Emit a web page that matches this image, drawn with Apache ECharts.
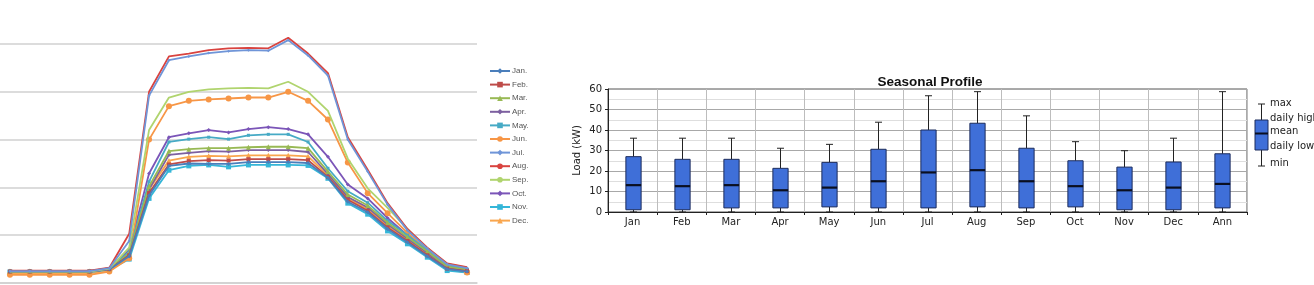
<!DOCTYPE html>
<html>
<head>
<meta charset="utf-8">
<script src="https://cdn.jsdelivr.net/npm/echarts@6/dist/echarts.min.js"></script>
<style>
html,body{margin:0;padding:0;background:#fff;}
#c{width:1314px;height:285px;}
</style>
</head>
<body>
<div id="c"></div>
<script>
// ---------- Left chart: hourly profiles by month ----------
const hours = ['0','1','2','3','4','5','6','7','8','9','10','11','12','13','14','15','16','17','18','19','20','21','22','23'];
const monthNames = ['Jan.','Feb.','Mar.','Apr.','May.','Jun.','Jul.','Aug.','Sep.','Oct.','Nov.','Dec.'];
const jan = [2.4,2.4,2.4,2.4,2.4,2.9,5.6,18.3,24.5,25.0,24.9,24.9,25.3,25.3,25.3,25.1,22.0,17.0,14.8,11.3,8.5,5.6,2.9,2.4];
const feb = [2.4,2.4,2.4,2.4,2.4,2.9,5.8,18.8,24.8,25.5,25.7,25.6,25.9,25.9,25.9,25.7,22.2,17.4,15.1,11.6,8.8,5.8,3.0,2.5];
const mar = [2.5,2.5,2.5,2.5,2.5,3.0,6.2,20.2,27.6,28.0,28.2,28.2,28.4,28.5,28.5,28.2,23.3,18.5,16.2,12.6,9.6,6.6,3.4,2.8];
const apr = [2.4,2.4,2.4,2.4,2.4,2.9,6.0,19.6,26.8,27.2,27.6,27.5,27.8,27.8,27.8,27.4,22.8,18.0,15.8,12.3,9.3,6.3,3.2,2.6];
const may = [2.5,2.5,2.5,2.5,2.5,3.0,6.5,21.2,29.5,30.1,30.5,30.1,30.9,31.1,31.1,29.5,24.0,19.2,16.8,13.0,10.0,6.8,3.6,2.9];
const jun = [1.7,1.7,1.7,1.7,1.7,2.4,5.2,30.0,37.0,38.1,38.4,38.6,38.8,38.8,40.0,38.1,34.2,25.2,18.8,14.6,10.5,6.8,3.5,2.2];
const jul = [2.5,2.5,2.5,2.5,2.5,3.1,8.8,39.2,46.6,47.4,48.1,48.5,48.7,48.6,50.8,47.6,43.4,30.0,23.3,16.4,11.0,7.2,3.9,3.1];
const aug = [2.6,2.6,2.6,2.6,2.6,3.2,10.3,40.0,47.4,48.0,48.7,49.1,49.2,49.1,51.3,48.0,43.9,30.5,23.7,16.7,11.3,7.4,4.1,3.3];
const sep = [2.4,2.4,2.4,2.4,2.4,3.0,7.4,32.0,38.8,40.0,40.5,40.7,40.8,40.7,42.1,40.0,36.0,26.0,19.8,15.7,11.3,7.2,4.0,3.2];
const oct = [2.5,2.5,2.5,2.5,2.5,3.1,7.0,22.9,30.5,31.3,32.0,31.5,32.2,32.6,32.2,31.1,26.4,20.6,17.7,13.6,10.0,7.0,3.8,3.0];
const nov = [2.3,2.3,2.3,2.3,2.3,2.8,5.0,17.7,23.6,24.5,24.7,24.3,24.7,24.7,24.7,24.6,21.9,16.7,14.4,10.9,8.2,5.4,2.6,2.2];
const dec = [2.0,2.0,2.0,2.0,2.0,2.6,5.4,19.6,25.6,26.4,26.6,26.5,26.7,26.7,26.7,26.5,22.5,17.8,15.4,12.0,9.0,6.0,2.8,2.2];
const monthValues = [jan,feb,mar,apr,may,jun,jul,aug,sep,oct,nov,dec];

// ---------- Right chart: seasonal profile ----------
const boxCategories = ['Jan','Feb','Mar','Apr','May','Jun','Jul','Aug','Sep','Oct','Nov','Dec','Ann'];
const boxMin   = [0,0,0,0,0,0,0,0,0,0,0,0,0];
const boxLow   = [1.1,1.1,2.0,2.0,2.5,2.0,2.0,2.5,2.0,2.5,1.1,1.1,2.0];
const boxMean  = [13.1,12.6,13.1,10.6,11.9,15.0,19.3,20.4,15.0,12.6,10.6,11.9,13.7];
const boxHigh  = [27.0,25.7,25.7,21.3,24.2,30.6,40.0,43.3,31.1,25.0,21.9,24.4,28.4];
const boxMax   = [36.0,36.0,36.0,31.1,33.0,43.8,56.7,58.7,46.9,34.3,29.9,36.0,58.7];
const loadTicks = [0,10,20,30,40,50,60];

const colors = ['#4a7ebb','#be4b48','#98b954','#7d60a0','#46aac5','#f79646','#6f95d8','#d9433f','#b0d46e','#7b55b8','#35b6d8','#f9a64e'];
const symbols = ['diamond','rect','triangle','diamond','rect','circle','diamond','none','none','diamond','rect','triangle'];
const symSizes = [4,4,5,4,3,6,3,0,0,4,5,5];

const lineSeries = monthNames.map((n,i)=>({
  name:n, type:'line', xAxisIndex:0, yAxisIndex:0,
  data: monthValues[i],
  symbol: symbols[i], symbolSize: symSizes[i], showSymbol: symbols[i]!=='none',
  lineStyle:{width:1.8, color:colors[i]},
  itemStyle:{color:colors[i]},
  z: 12 - i + (i>=6 && i<=8 ? 10 : 0),
  animation:false
}));

const boxData = boxCategories.map((c,i)=>[i, boxMin[i], boxLow[i], boxMean[i], boxHigh[i], boxMax[i]]);

const boxSeries = {
  type:'custom', xAxisIndex:1, yAxisIndex:1,
  data: boxData,
  encode:{x:0, y:[1,2,3,4,5]},
  animation:false,
  renderItem: function(params, api){
    const x = api.value(0);
    const pMin = api.coord([x, api.value(1)]);
    const pLow = api.coord([x, api.value(2)]);
    const pMean = api.coord([x, api.value(3)]);
    const pHigh = api.coord([x, api.value(4)]);
    const pMax = api.coord([x, api.value(5)]);
    const bw = api.size([1,0])[0]*0.31;
    const cap = 7;
    const cx = Math.round(pMean[0]) + 0.5;
    const stroke = {stroke:'#222', lineWidth:1};
    return {type:'group', children:[
      {type:'line', shape:{x1:cx,y1:pMax[1],x2:cx,y2:pHigh[1]}, style:stroke},
      {type:'line', shape:{x1:cx-cap/2,y1:pMax[1],x2:cx+cap/2,y2:pMax[1]}, style:stroke},
      {type:'line', shape:{x1:cx,y1:pLow[1],x2:cx,y2:pMin[1]}, style:stroke},
      {type:'line', shape:{x1:cx-cap/2,y1:pMin[1],x2:cx+cap/2,y2:pMin[1]}, style:stroke},
      {type:'rect', shape:{x:cx-bw/2, y:pHigh[1], width:bw, height:pLow[1]-pHigh[1]},
        style:{fill:'#3f6fd8', stroke:'#1c2c5c', lineWidth:1}},
      {type:'line', shape:{x1:cx-bw/2,y1:pMean[1],x2:cx+bw/2,y2:pMean[1]}, style:{stroke:'#0a0f20', lineWidth:2.2}}
    ]};
  }
};

const font = 'DejaVu Sans, Verdana, sans-serif';
const chart = echarts.init(document.getElementById('c'), null, {renderer:'canvas'});
chart.setOption({
  animation:false,
  backgroundColor:'#fff',
  title:{text:'Seasonal Profile', left:925, top:70, textAlign:'center',
    textStyle:{fontFamily:'Liberation Sans, Arial, sans-serif', fontWeight:'bold', fontSize:13.5, color:'#111'}},
  legend:{
    data: monthNames, orient:'vertical', left:484, top:62,
    itemWidth:20, itemHeight:7, itemGap:5.6,
    textStyle:{fontSize:8, color:'#555', fontFamily:'Liberation Sans, Arial, sans-serif', padding:[0,0,0,-3]}
  },
  grid:[
    {left:-2, width:479, top:0, height:283, show:false},
    {left:608, right:67, top:89, bottom:73, show:true, borderColor:'#555', borderWidth:1, backgroundColor:'#fff'}
  ],
  xAxis:[
    {type:'category', gridIndex:0, data:hours, boundaryGap:true,
      axisLine:{show:true, lineStyle:{color:'#d0d0d0', width:1.5}}, axisTick:{show:false}, axisLabel:{show:false}, splitLine:{show:false}},
    {type:'category', gridIndex:1, data:boxCategories, boundaryGap:true,
      axisLine:{show:true, lineStyle:{color:'#222', width:1}},
      axisTick:{show:true, alignWithLabel:false, length:3, lineStyle:{color:'#222'}},
      axisLabel:{fontSize:10, color:'#222', fontFamily:font, margin:5},
      splitLine:{show:true, lineStyle:{color:'#bdbdbd', width:1}}}
  ],
  yAxis:[
    {type:'value', gridIndex:0, min:0, max:59.2, interval:10,
      axisLine:{show:false}, axisTick:{show:false}, axisLabel:{show:false},
      splitLine:{show:true, showMaxLine:false, lineStyle:{color:'#d0d0d0', width:1.5}}},
    {type:'value', gridIndex:1, min:loadTicks[0], max:loadTicks[loadTicks.length-1], interval:10,
      name:'Load (kW)', nameLocation:'middle', nameRotate:90, nameGap:26,
      nameTextStyle:{fontSize:10, color:'#222', fontFamily:font},
      axisLine:{show:true, lineStyle:{color:'#222'}},
      axisTick:{show:true, length:3, lineStyle:{color:'#222'}},
      axisLabel:{fontSize:10, color:'#222', fontFamily:font, margin:6},
      splitLine:{show:true, lineStyle:{color:'#a8a8a8', width:1}},
      minorTick:{show:false, splitNumber:2},
      minorSplitLine:{show:true, lineStyle:{color:'#dedede', width:1}}}
  ],
  series: lineSeries.concat([boxSeries]),
  graphic:[
    {type:'line', shape:{x1:1261.5,y1:104,x2:1261.5,y2:166}, style:{stroke:'#222', lineWidth:1}},
    {type:'line', shape:{x1:1258,y1:104,x2:1265,y2:104}, style:{stroke:'#222', lineWidth:1}},
    {type:'line', shape:{x1:1258,y1:166,x2:1265,y2:166}, style:{stroke:'#222', lineWidth:1}},
    {type:'rect', shape:{x:1255,y:120,width:13,height:30}, style:{fill:'#3f6fd8', stroke:'#1c2c5c', lineWidth:1}},
    {type:'line', shape:{x1:1255,y1:133.5,x2:1268,y2:133.5}, style:{stroke:'#0a0f20', lineWidth:2}},
    {type:'text', x:1270, y:103, style:{text:'max', fontSize:10, fill:'#222', fontFamily:font, verticalAlign:'middle'}},
    {type:'text', x:1270, y:118, style:{text:'daily high', fontSize:10, fill:'#222', fontFamily:font, verticalAlign:'middle'}},
    {type:'text', x:1270, y:131, style:{text:'mean', fontSize:10, fill:'#222', fontFamily:font, verticalAlign:'middle'}},
    {type:'text', x:1270, y:146, style:{text:'daily low', fontSize:10, fill:'#222', fontFamily:font, verticalAlign:'middle'}},
    {type:'text', x:1270, y:163, style:{text:'min', fontSize:10, fill:'#222', fontFamily:font, verticalAlign:'middle'}}
  ]
});
</script>
</body>
</html>
